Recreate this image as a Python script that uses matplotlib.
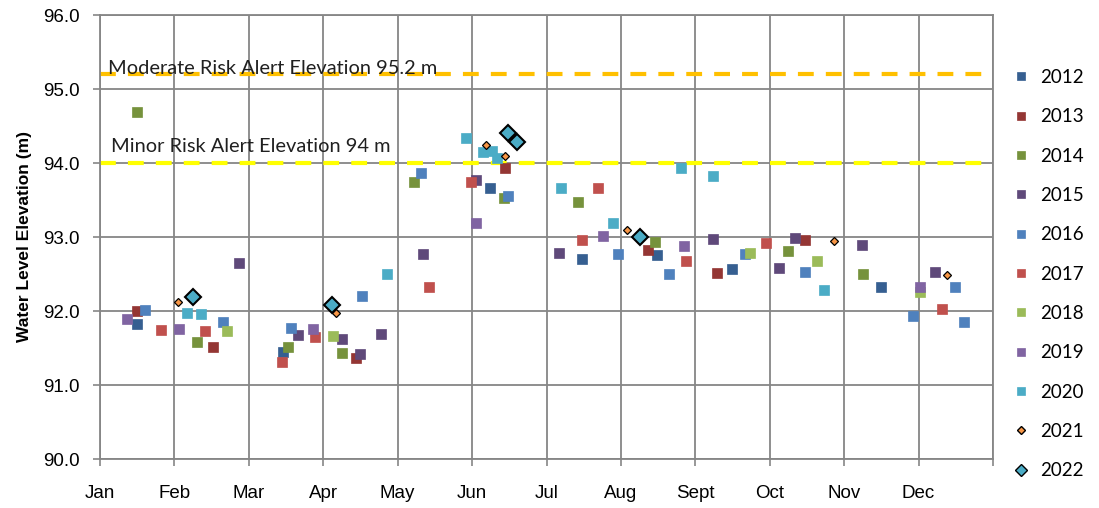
import numpy as np
import matplotlib
matplotlib.use("Agg")
import matplotlib.pyplot as plt
from matplotlib.lines import Line2D

# Day of year for each reading, and water level (m)
day_2012 = [15.1, 74.8, 159.4, 197.0, 227.7, 258.3, 319.2]
lvl_2012 = [91.82, 91.45, 93.66, 92.70, 92.76, 92.57, 92.32]

day_2013 = [15.1, 46.2, 104.6, 165.5, 224.0, 252.2, 288.2]
lvl_2013 = [92.00, 91.51, 91.36, 93.93, 92.82, 92.51, 92.96]

day_2014 = [15.1, 39.6, 76.8, 98.9, 128.3, 165.1, 195.4, 226.8, 281.2, 311.9]
lvl_2014 = [94.69, 91.58, 91.51, 91.43, 93.74, 93.53, 93.47, 92.93, 92.81, 92.50]

day_2015 = [56.8, 80.9, 98.9, 106.3, 114.9, 132.0, 153.7, 187.6, 250.6, 277.5, 284.1, 311.5, 341.3]
lvl_2015 = [92.65, 91.68, 91.62, 91.42, 91.69, 92.77, 93.77, 92.78, 92.97, 92.58, 92.99, 92.89, 92.53]

day_2016 = [18.4, 50.3, 78.1, 107.1, 131.2, 166.8, 211.7, 232.6, 263.6, 288.2, 332.3, 349.5, 353.1]
lvl_2016 = [92.01, 91.85, 91.77, 92.20, 93.86, 93.55, 92.77, 92.50, 92.77, 92.53, 91.93, 92.32, 91.85]

day_2017 = [24.9, 42.9, 74.4, 87.9, 134.5, 151.6, 197.0, 203.5, 239.5, 272.2, 344.2]
lvl_2017 = [91.74, 91.73, 91.31, 91.65, 92.32, 93.74, 92.96, 93.66, 92.68, 92.92, 92.03]

day_2018 = [51.9, 95.2, 265.7, 293.1, 335.2]
lvl_2018 = [91.73, 91.66, 92.78, 92.68, 92.26]

day_2019 = [11.0, 32.3, 87.1, 153.7, 205.6, 238.7, 335.2]
lvl_2019 = [91.89, 91.76, 91.76, 93.19, 93.01, 92.88, 92.32]

day_2020 = [35.6, 41.3, 117.3, 149.6, 156.5, 160.2, 162.3, 188.4, 209.7, 237.5, 250.6, 295.9]
lvl_2020 = [91.97, 91.96, 92.50, 94.34, 94.15, 94.16, 94.07, 93.66, 93.19, 93.93, 93.82, 92.28]

day_2021 = [31.9, 96.5, 157.8, 165.5, 215.4, 300.0, 346.2]
lvl_2021 = [92.12, 91.97, 94.24, 94.09, 93.09, 92.95, 92.49]

day_2022 = [38.0, 94.8, 166.8, 170.4, 220.7]
lvl_2022 = [92.19, 92.08, 94.41, 94.28, 93.00]

moderate_level = 95.2
minor_level = 94.0
months = ["Jan", "Feb", "Mar", "Apr", "May", "Jun", "Jul", "Aug", "Sept", "Oct", "Nov", "Dec", ""]

series = [
    ("2012", day_2012, lvl_2012, "#365F91"),
    ("2013", day_2013, lvl_2013, "#943634"),
    ("2014", day_2014, lvl_2014, "#76923C"),
    ("2015", day_2015, lvl_2015, "#5F497A"),
    ("2016", day_2016, lvl_2016, "#4F81BD"),
    ("2017", day_2017, lvl_2017, "#C0504D"),
    ("2018", day_2018, lvl_2018, "#9BBB59"),
    ("2019", day_2019, lvl_2019, "#8064A2"),
    ("2020", day_2020, lvl_2020, "#4BACC6"),
]

fig = plt.figure(figsize=(10.99, 5.08), dpi=100)
ax = fig.add_axes([100 / 1099, 49 / 508, 893 / 1099, 444 / 508])

grid_col = "#868686"
month_ticks = np.arange(13) * 365 / 12
ax.set_xlim(0, 365)
ax.set_ylim(90, 96)
ax.set_xticks(month_ticks)
ax.set_xticklabels(months, fontsize=13.5, family="Liberation Sans")
ax.set_yticks(np.arange(90, 96.1, 1.0))
ax.set_yticklabels([f"{v:.1f}" for v in np.arange(90, 96.1, 1.0)], fontsize=13.5, family="Liberation Sans")
ax.tick_params(axis="both", direction="out", length=5, width=1.2, color=grid_col)
ax.tick_params(axis="x", pad=14)
ax.tick_params(axis="y", pad=9.4)
ax.grid(True, color=grid_col, lw=1.3)
ax.set_axisbelow(True)
for sp in ax.spines.values():
    sp.set_color(grid_col)
    sp.set_linewidth(1.3)

ax.set_ylabel("Water Level Elevation (m)", fontsize=12.5, fontweight="bold",
              family="Liberation Sans", labelpad=8)

# alert lines
ax.axhline(moderate_level, color="#FFC000", lw=3, dashes=(3.8, 2.9), zorder=2)
ax.axhline(minor_level, color="#FFFF00", lw=3, dashes=(3.8, 2.9), zorder=2)
ax.text(3.3, moderate_level, "Moderate Risk Alert Elevation 95.2 m", fontsize=14.4,
        family="Lato", color="#202020", va="baseline", zorder=3)
ax.text(4.3, minor_level + 0.15, "Minor Risk Alert Elevation 94 m", fontsize=14.4,
        family="Lato", color="#202020", va="baseline", zorder=3)

handles = []
for name, d, v, c in series:
    h, = ax.plot(d, v, ls="none", marker="s", ms=7.4, color=c, mec=c, mew=0.5,
                 label=name, zorder=4)
    handles.append(h)

h21, = ax.plot(day_2021, lvl_2021, ls="none", marker="D", ms=4.2, color="#F79646",
               mec="black", mew=0.9, label="2021", zorder=5)
h22, = ax.plot(day_2022, lvl_2022, ls="none", marker="D", ms=8.6, color="#4BACC6",
               mec="black", mew=1.5, label="2022", zorder=6)
handles += [h21, h22]

leg_handles = [Line2D([], [], ls="none", marker=h.get_marker(),
                      ms=(6 if h.get_marker() == "s" else (4.2 if h is h21 else 6.5)),
                      color=h.get_color(), mec=h.get_mec(), mew=(0.5 if h.get_marker() == "s" else 1.0))
               for h in handles]
fig.legend(leg_handles, [h.get_label() for h in handles], loc="upper left",
           bbox_to_anchor=(1012 / 1099, 1 - 69 / 508), frameon=False,
           prop={"family": "Lato", "size": 13.5}, handlelength=1.0,
           handletextpad=0.5, labelspacing=1.19, borderaxespad=0, borderpad=0)

fig.savefig("out.png", dpi=100)
